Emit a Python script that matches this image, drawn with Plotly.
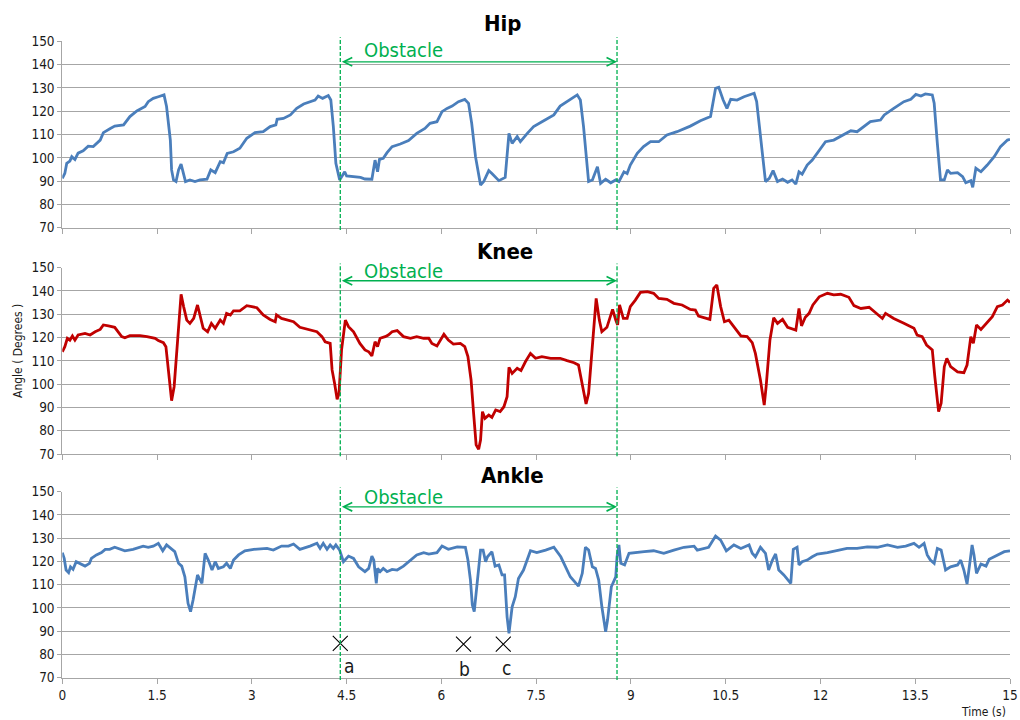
import plotly.graph_objects as go

# ---------------- data ----------------
hip_t = [0.00,0.04,0.07,0.12,0.15,0.20,0.25,0.33,0.41,0.49,0.60,0.65,0.76,0.83,0.97,1.07,1.18,1.31,1.36,1.44,
         1.52,1.61,1.65,1.71,1.73,1.76,1.80,1.84,1.88,1.92,1.95,2.02,2.10,2.18,2.29,2.35,2.42,2.50,2.55,2.61,
         2.71,2.81,2.92,3.05,3.18,3.29,3.38,3.40,3.50,3.61,3.71,3.82,3.95,4.00,4.05,4.12,4.21,4.25,4.29,4.33,
         4.39,4.42,4.47,4.50,4.61,4.72,4.79,4.90,4.95,4.99,5.02,5.08,5.14,5.22,5.35,5.48,5.61,5.74,5.82,5.93,
         6.01,6.09,6.17,6.27,6.37,6.43,6.48,6.54,6.62,6.67,6.75,6.80,6.91,7.01,7.07,7.12,7.20,7.25,7.36,7.46,
         7.62,7.78,7.88,7.99,8.15,8.20,8.25,8.33,8.39,8.47,8.52,8.60,8.68,8.76,8.81,8.89,8.94,8.99,9.10,9.20,
         9.31,9.44,9.57,9.73,9.94,10.10,10.26,10.34,10.39,10.46,10.52,10.58,10.68,10.79,10.87,10.95,10.99,11.05,11.13,11.19,
         11.25,11.32,11.40,11.48,11.55,11.61,11.66,11.71,11.79,11.87,11.98,12.08,12.21,12.37,12.48,12.58,12.69,12.79,12.95,13.01,
         13.16,13.32,13.43,13.51,13.59,13.66,13.77,13.80,13.85,13.90,13.96,14.01,14.06,14.17,14.25,14.30,14.38,14.41,14.46,14.54,
         14.64,14.75,14.85,14.96,15.00]
hip_v = [91.2,93.3,97.6,98.6,100.5,99.3,102.0,103.0,105.0,104.8,107.6,110.8,112.6,113.6,114.1,117.7,120.1,122.0,124.1,125.5,
         126.2,127.0,122.0,107.6,94.8,90.5,89.8,94.8,97.3,93.3,89.8,90.5,89.8,90.5,90.8,94.8,93.6,98.3,97.9,101.9,
         102.6,104.1,108.4,110.8,111.2,113.4,114.1,116.5,116.9,118.4,121.2,123.1,124.1,124.8,126.5,125.5,126.7,124.8,113.4,97.6,
         90.5,91.9,94.0,92.2,91.9,91.6,90.9,90.8,99.0,94.0,99.3,99.8,102.2,104.8,105.9,107.4,110.5,112.6,114.8,115.5,
         119.8,121.2,122.2,124.1,125.1,123.4,114.8,100.5,88.3,89.8,94.5,93.3,90.2,91.6,110.5,106.2,109.1,106.9,110.5,113.4,
         115.9,118.4,122.2,124.1,127.0,124.8,113.4,89.8,90.5,96.2,89.0,90.8,89.3,90.5,89.8,94.0,93.3,96.9,101.9,104.8,
         106.9,106.9,109.8,111.2,113.6,115.9,117.7,129.8,130.3,124.8,121.2,125.1,124.8,126.2,127.0,127.7,124.1,110.5,89.8,91.2,
         94.5,89.8,90.9,89.5,90.5,88.7,94.0,93.0,96.9,99.0,103.3,106.9,107.6,109.8,111.6,111.2,113.4,115.5,116.2,118.4,
         121.2,124.1,125.1,127.2,126.5,127.4,127.0,123.4,106.2,90.5,90.5,94.8,93.3,93.6,91.9,89.3,90.2,87.3,95.5,94.0,
         96.9,100.5,104.8,107.6,107.9]

knee_t = [0.00,0.04,0.08,0.12,0.16,0.20,0.25,0.36,0.44,0.52,0.60,0.65,0.73,0.83,0.94,0.99,1.07,1.23,1.34,1.47,
          1.52,1.60,1.64,1.67,1.71,1.73,1.77,1.81,1.85,1.88,1.92,1.97,2.02,2.08,2.14,2.18,2.23,2.30,2.36,2.42,
          2.50,2.55,2.60,2.66,2.71,2.81,2.92,3.00,3.08,3.18,3.29,3.37,3.39,3.47,3.58,3.66,3.76,3.90,4.03,4.11,
          4.16,4.24,4.27,4.31,4.35,4.38,4.42,4.48,4.53,4.61,4.71,4.79,4.85,4.90,4.95,4.99,5.03,5.11,5.16,5.22,
          5.30,5.40,5.51,5.61,5.72,5.80,5.85,5.93,5.98,6.04,6.11,6.19,6.30,6.37,6.42,6.47,6.51,6.55,6.59,6.62,
          6.65,6.69,6.75,6.80,6.86,6.93,6.99,7.04,7.07,7.12,7.20,7.26,7.33,7.41,7.49,7.59,7.73,7.88,7.99,8.10,
          8.17,8.23,8.29,8.33,8.39,8.45,8.50,8.54,8.62,8.71,8.76,8.79,8.82,8.88,8.94,8.99,9.07,9.15,9.26,9.36,
          9.44,9.57,9.68,9.81,9.94,10.02,10.07,10.18,10.25,10.31,10.36,10.42,10.48,10.55,10.63,10.74,10.84,10.92,10.97,11.05,
          11.11,11.14,11.20,11.26,11.32,11.40,11.48,11.61,11.66,11.70,11.76,11.82,11.88,11.98,12.11,12.21,12.32,12.45,12.53,12.64,
          12.77,12.88,12.98,13.03,13.16,13.32,13.48,13.53,13.61,13.68,13.77,13.81,13.87,13.91,13.96,14.00,14.06,14.17,14.27,14.32,
          14.38,14.42,14.47,14.54,14.64,14.72,14.80,14.88,14.96,15.00]
knee_v = [113.9,116.1,119.7,118.9,120.7,118.9,121.1,121.8,121.1,122.5,123.5,125.4,125.0,124.4,120.4,119.9,120.8,120.8,120.4,119.7,
          118.7,117.8,116.1,108.9,98.9,92.9,98.9,114.7,130.4,138.6,133.3,127.5,126.1,128.2,134.0,129.7,124.0,122.5,126.1,124.0,
          127.5,126.1,130.4,129.7,131.5,131.5,133.7,133.3,132.8,129.7,127.8,126.8,129.7,128.2,127.5,126.8,124.4,123.5,122.5,120.4,
          118.2,117.5,106.1,100.3,93.5,96.0,114.7,127.5,124.7,122.5,117.5,114.7,113.9,112.1,118.2,116.1,119.7,120.4,121.1,122.5,
          123.0,120.4,119.7,120.4,119.7,119.7,117.5,116.4,118.9,121.4,118.9,117.2,117.5,116.1,111.8,101.8,87.5,73.9,72.0,76.0,
          88.2,85.3,86.7,85.7,88.9,88.2,90.3,94.6,107.2,104.6,106.8,105.8,109.6,113.2,111.1,111.8,111.1,111.1,110.1,109.2,
          108.2,100.3,91.5,96.0,116.1,136.8,127.5,122.5,124.4,132.1,127.5,125.4,134.0,128.2,128.2,133.3,136.1,139.4,139.7,139.0,
          136.8,136.4,134.7,134.0,132.1,131.8,129.2,128.5,127.8,141.1,142.6,133.3,126.8,127.5,124.7,120.7,120.4,117.8,113.2,101.8,
          91.0,98.9,118.9,128.5,126.1,127.8,124.4,123.2,132.5,125.0,128.7,130.4,134.0,137.5,139.0,138.3,138.6,137.3,133.7,132.5,
          133.0,130.4,128.2,130.4,128.2,126.1,124.0,121.1,120.4,116.8,114.7,103.2,88.2,91.8,107.5,111.1,107.5,105.3,104.9,108.2,
          120.4,117.5,125.4,123.5,126.8,129.0,133.3,134.0,136.1,135.1]

ankle_t = [0.00,0.03,0.06,0.10,0.13,0.17,0.22,0.28,0.36,0.43,0.46,0.54,0.62,0.68,0.75,0.83,0.99,1.12,1.28,1.36,
           1.44,1.52,1.59,1.65,1.71,1.78,1.84,1.89,1.94,1.99,2.03,2.07,2.14,2.21,2.26,2.31,2.37,2.42,2.47,2.55,
           2.60,2.66,2.71,2.79,2.89,3.03,3.24,3.34,3.47,3.58,3.66,3.76,3.92,4.03,4.08,4.13,4.19,4.24,4.29,4.33,
           4.39,4.45,4.53,4.61,4.69,4.79,4.85,4.90,4.93,4.97,4.99,5.03,5.08,5.14,5.22,5.30,5.40,5.51,5.61,5.72,
           5.80,5.93,6.01,6.11,6.25,6.38,6.42,6.46,6.49,6.52,6.55,6.59,6.62,6.66,6.70,6.73,6.80,6.85,6.91,6.96,
           7.00,7.04,7.07,7.12,7.17,7.22,7.30,7.41,7.51,7.65,7.78,7.89,8.04,8.17,8.23,8.28,8.33,8.39,8.44,8.49,
           8.54,8.60,8.63,8.69,8.76,8.78,8.81,8.84,8.90,8.97,9.05,9.21,9.36,9.52,9.68,9.84,10.00,10.05,10.23,10.34,
           10.42,10.51,10.63,10.74,10.87,10.92,10.97,11.05,11.13,11.18,11.24,11.29,11.34,11.42,11.53,11.57,11.63,11.66,11.71,11.79,
           11.87,11.95,12.11,12.27,12.42,12.58,12.74,12.90,13.06,13.22,13.35,13.48,13.56,13.64,13.69,13.74,13.80,13.85,13.91,13.98,
           14.06,14.17,14.22,14.27,14.32,14.37,14.40,14.43,14.47,14.54,14.62,14.67,14.80,14.91,15.00]
ankle_v = [123.8,121.3,116.3,115.2,117.7,116.6,119.9,119.2,118.0,119.2,121.3,122.8,123.8,125.2,125.2,126.1,124.6,125.2,126.6,126.1,
           126.6,127.8,124.6,127.1,125.6,124.2,119.2,118.0,113.4,102.0,98.4,103.4,114.2,110.6,123.5,120.6,116.3,119.9,117.0,117.7,
           119.2,117.0,120.6,122.8,124.6,125.2,125.6,124.9,126.6,126.6,127.5,125.2,126.6,127.8,125.6,127.8,125.2,127.1,125.6,127.1,
           124.9,119.9,122.3,121.3,117.7,115.6,117.0,122.3,120.6,110.6,117.0,115.6,117.0,115.6,116.6,116.3,118.0,120.6,122.8,123.8,
           123.2,123.8,126.6,125.2,126.3,126.1,120.6,112.0,101.3,98.4,106.3,119.2,124.9,124.9,119.9,122.0,124.2,118.0,118.5,114.2,
           114.2,96.2,89.1,100.5,104.8,112.7,116.3,124.6,123.8,124.9,126.1,122.0,113.4,109.4,114.9,126.1,124.9,117.7,117.0,112.0,
           100.5,89.8,94.8,109.1,113.4,122.0,127.1,119.2,118.5,123.5,123.8,124.2,124.6,123.5,124.9,126.1,126.6,124.9,126.1,130.9,
           129.2,124.6,127.1,125.6,127.1,123.5,122.0,126.1,123.5,116.3,120.6,123.2,116.3,114.2,110.6,125.2,126.1,118.5,119.9,120.6,
           122.0,123.2,123.8,124.6,125.6,125.6,126.3,126.1,127.1,126.1,126.6,127.8,126.1,127.8,122.8,120.6,119.2,125.6,124.9,116.3,
           117.7,118.5,120.6,116.3,110.3,120.6,127.1,122.8,114.9,118.9,118.0,120.9,122.8,124.2,124.6]

x_ticks = [0, 1.5, 3, 4.5, 6, 7.5, 9, 10.5, 12, 13.5, 15]
x_tick_labels = ["0", "1.5", "3", "4.5", "6", "7.5", "9", "10.5", "12", "13.5", "15"]
obstacle_start = 4.40
obstacle_end = 8.78
panel_titles = ["Hip", "Knee", "Ankle"]
arrow_y = [141.2, 144.4, 143.5]
obstacle_text_y = [146.3, 148.5, 147.6]
event_x = [4.40, 6.35, 6.98]
event_y = [84.8, 84.4, 84.4]
event_labels = ["a", "b", "c"]
event_label_x = [4.53, 6.36, 7.03]
event_label_y = [74.9, 73.6, 74.0]

# ---------------- style ----------------
FONT = "DejaVu Sans Condensed, Liberation Sans Narrow, DejaVu Sans, sans-serif"
GRID = "#A6A6A6"
GREEN = "#00B050"
BLUE = "#4A7EBB"
RED = "#C00000"

xdom = [62.3 / 1020, 1010 / 1020]
ydoms = [[1 - 227.7 / 720, 1 - 41.3 / 720],
         [1 - 454.0 / 720, 1 - 267.7 / 720],
         [1 - 677.7 / 720, 1 - 491.7 / 720]]

fig = go.Figure()
series = [(hip_t, hip_v, BLUE), (knee_t, knee_v, RED), (ankle_t, ankle_v, BLUE)]
for i, (t, v, c) in enumerate(series):
    sfx = "" if i == 0 else str(i + 1)
    fig.add_trace(go.Scatter(x=t, y=v, mode="lines", line=dict(color=c, width=2.8),
                             xaxis="x" + sfx, yaxis="y" + sfx, showlegend=False,
                             hoverinfo="skip"))

fig.add_trace(go.Scatter(x=event_x, y=event_y, mode="markers",
                         marker=dict(symbol="x-thin-open", size=15, color="black",
                                     line=dict(color="black", width=1.1)),
                         xaxis="x3", yaxis="y3", showlegend=False, hoverinfo="skip"))

layout = dict(width=1020, height=720,
              margin=dict(l=0, r=0, t=0, b=0, autoexpand=False),
              paper_bgcolor="white", plot_bgcolor="white",
              font=dict(family=FONT, color="#1a1a1a", size=13.5),
              showlegend=False)

for i in range(3):
    sfx = "" if i == 0 else str(i + 1)
    layout["xaxis" + sfx] = dict(domain=xdom, anchor="y" + sfx, range=[0, 15],
                                 tickmode="array", tickvals=x_ticks, ticktext=x_tick_labels,
                                 showticklabels=(i == 2), ticks="outside", ticklen=5,
                                 tickcolor=GRID, tickwidth=1, showline=True, linecolor=GRID,
                                 linewidth=1, showgrid=False, zeroline=False,
                                 tickfont=dict(family=FONT, size=13.5, color="#1a1a1a"))
    layout["yaxis" + sfx] = dict(domain=ydoms[i], anchor="x" + sfx, range=[70, 150],
                                 tick0=70, dtick=10, showgrid=True, gridcolor=GRID,
                                 gridwidth=1, ticks="outside", ticklen=4, tickcolor=GRID,
                                 showline=True, linecolor=GRID, linewidth=1, zeroline=False,
                                 tickfont=dict(family=FONT, size=13.5, color="#1a1a1a"))

shapes = []
annotations = []
title_pos = [(503, 23.4), (505, 251.5), (512, 475.5)]
for i in range(3):
    sfx = "" if i == 0 else str(i + 1)
    for xv in (obstacle_start, obstacle_end):
        shapes.append(dict(type="line", xref="x" + sfx, yref="y" + sfx + " domain",
                           x0=xv, x1=xv, y0=-0.012, y1=1.022,
                           line=dict(color=GREEN, width=1.3, dash="4px,2px")))
    annotations.append(dict(xref="x" + sfx, yref="y" + sfx, x=obstacle_end, y=arrow_y[i],
                            axref="x" + sfx, ayref="y" + sfx, ax=obstacle_start, ay=arrow_y[i],
                            text="", showarrow=True, arrowhead=5, startarrowhead=5,
                            arrowside="end+start", arrowsize=1.3, startarrowsize=1.3,
                            arrowwidth=1.3, arrowcolor=GREEN, standoff=0, startstandoff=0))
    annotations.append(dict(xref="x" + sfx, yref="y" + sfx, x=5.40, y=obstacle_text_y[i],
                            text="Obstacle", showarrow=False, xanchor="center", yanchor="middle",
                            font=dict(family=FONT, size=20, color=GREEN)))
    tx, ty = title_pos[i]
    annotations.append(dict(xref="paper", yref="paper", x=tx / 1020, y=1 - ty / 720,
                            text="<b>" + panel_titles[i] + "</b>", showarrow=False,
                            xanchor="center", yanchor="middle",
                            font=dict(family=FONT, size=22, color="black")))

for lx, ly, lt in zip(event_label_x, event_label_y, event_labels):
    annotations.append(dict(xref="x3", yref="y3", x=lx, y=ly, text=lt, showarrow=False,
                            xanchor="center", yanchor="middle",
                            font=dict(family=FONT, size=19, color="#1a1a1a")))

annotations.append(dict(xref="paper", yref="paper", x=18 / 1020, y=1 - 351 / 720,
                        text="Angle ( Degrees )", textangle=-90, showarrow=False,
                        xanchor="center", yanchor="middle",
                        font=dict(family=FONT, size=12, color="#1a1a1a")))
annotations.append(dict(xref="paper", yref="paper", x=983 / 1020, y=1 - 712 / 720,
                        text="Time (s)", showarrow=False, xanchor="center", yanchor="middle",
                        font=dict(family=FONT, size=12, color="#1a1a1a")))

layout["shapes"] = shapes
layout["annotations"] = annotations
fig.update_layout(**layout)
fig.write_html("out.html")
